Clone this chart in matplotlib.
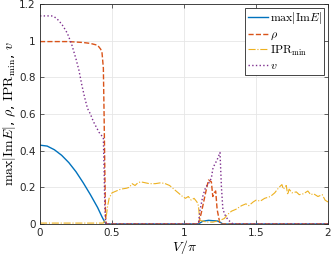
import numpy as np
import matplotlib
matplotlib.use('Agg')
import matplotlib.pyplot as plt

plt.rcParams['mathtext.fontset'] = 'cm'

# data
V_im = [0, 0.05, 0.1, 0.15, 0.2, 0.25, 0.3, 0.35, 0.4, 0.43, 0.45, 0.46, 1.1, 1.13, 1.17, 1.2, 1.23, 1.25, 1.27, 2.0]
im_max = [0.43, 0.425, 0.405, 0.375, 0.335, 0.285, 0.225, 0.16, 0.09, 0.04, 0.01, 0.0, 0.0, 0.015, 0.02, 0.018, 0.017, 0.01, 0.0, 0.0]

V_rho = [0, 0.2, 0.3, 0.35, 0.4, 0.42, 0.43, 0.44, 0.445, 0.45, 0.455, 0.46, 1.1, 1.12, 1.15, 1.17, 1.19, 1.2, 1.21, 1.22, 1.23, 1.25, 2.0]
rho = [0.995, 0.995, 0.99, 0.985, 0.975, 0.955, 0.94, 0.85, 0.6, 0.3, 0.05, 0.0, 0.0, 0.06, 0.17, 0.24, 0.23, 0.15, 0.17, 0.18, 0.08, 0.0, 0.0]

V_ipr = [0, 0.2, 0.44, 0.46, 0.47, 0.48, 0.5, 0.53, 0.56, 0.6, 0.62, 0.64, 0.66, 0.68, 0.7, 0.73, 0.76, 0.8, 0.84, 0.87, 0.9, 0.93, 0.96, 0.99, 1.01, 1.03, 1.05, 1.07, 1.09, 1.1, 1.11, 1.15, 1.2, 1.25, 1.28, 1.3, 1.33, 1.36, 1.4, 1.43, 1.45, 1.48, 1.5, 1.53, 1.56, 1.6, 1.63, 1.66, 1.68, 1.69, 1.7, 1.71, 1.72, 1.73, 1.75, 1.78, 1.8, 1.83, 1.86, 1.88, 1.9, 1.93, 1.96, 1.98, 2.0]
ipr = [0.005, 0.005, 0.005, 0.04, 0.1, 0.14, 0.17, 0.18, 0.19, 0.195, 0.2, 0.22, 0.21, 0.225, 0.23, 0.225, 0.22, 0.22, 0.225, 0.22, 0.21, 0.19, 0.17, 0.15, 0.14, 0.15, 0.13, 0.14, 0.12, 0.1, 0.02, 0.012, 0.01, 0.02, 0.03, 0.05, 0.07, 0.08, 0.1, 0.11, 0.1, 0.12, 0.13, 0.125, 0.14, 0.15, 0.17, 0.2, 0.215, 0.19, 0.2, 0.21, 0.16, 0.19, 0.17, 0.175, 0.16, 0.165, 0.18, 0.16, 0.165, 0.15, 0.16, 0.13, 0.12]

V_v = [0, 0.08, 0.1, 0.13, 0.16, 0.19, 0.22, 0.25, 0.27, 0.29, 0.31, 0.33, 0.35, 0.37, 0.39, 0.41, 0.43, 0.44, 0.445, 0.45, 0.455, 0.46, 1.1, 1.11, 1.13, 1.15, 1.17, 1.19, 1.2, 1.21, 1.23, 1.25, 1.26, 1.27, 1.29, 1.31, 1.34, 2.0]
v = [1.135, 1.135, 1.13, 1.11, 1.08, 1.04, 0.98, 0.9, 0.84, 0.76, 0.69, 0.63, 0.6, 0.56, 0.53, 0.5, 0.48, 0.47, 0.3, 0.1, 0.02, 0.0, 0.0, 0.07, 0.15, 0.2, 0.22, 0.25, 0.3, 0.32, 0.35, 0.39, 0.2, 0.08, 0.04, 0.02, 0.0, 0.0]

fig = plt.figure(figsize=(3.32, 2.62), dpi=100)
ax = fig.add_axes([40/332, 38/262, 288/332, 220/262])

ax.plot(V_im, im_max, '-', color='#0072BD', lw=1.0, label=r'$\max|\mathrm{Im}E|$')
ax.plot(V_rho, rho, '--', color='#D95319', lw=1.0, label=r'$\rho$')
ax.plot(V_ipr, ipr, '-.', color='#EDB120', lw=0.8, label=r'$\mathrm{IPR}_{\min}$')
ax.plot(V_v, v, ':', color='#7E2F8E', lw=1.0, label=r'$v$')

ax.set_xlim(0, 2)
ax.set_ylim(0, 1.2)
ax.set_xticks([0, 0.5, 1, 1.5, 2])
ax.set_xticklabels(['0', '0.5', '1', '1.5', '2'])
ax.set_yticks([0, 0.2, 0.4, 0.6, 0.8, 1, 1.2])
ax.set_yticklabels(['0', '0.2', '0.4', '0.6', '0.8', '1', '1.2'])
ax.tick_params(direction='in', top=True, right=True, labelsize=7.5, length=3, width=0.5, pad=3,
               colors='#262626')
ax.grid(True, color='#e6e6e6', lw=0.6)
ax.set_axisbelow(True)
for s in ax.spines.values():
    s.set_linewidth(0.6)
    s.set_color('#262626')

ax.set_xlabel(r'$V/\pi$', fontsize=10, labelpad=0)
ax.set_ylabel(r'$\max|\mathrm{Im}E|$, $\rho$, $\mathrm{IPR}_{\min}$, $v$', fontsize=10, labelpad=1)

leg = ax.legend(loc='upper right', fontsize=8.5, handlelength=1.7, handletextpad=0.2,
                borderpad=0.2, labelspacing=0.15, fancybox=False, framealpha=1,
                borderaxespad=0.3)
leg.get_frame().set_edgecolor('#262626')
leg.get_frame().set_linewidth(0.6)

fig.savefig('out.png', dpi=100)
